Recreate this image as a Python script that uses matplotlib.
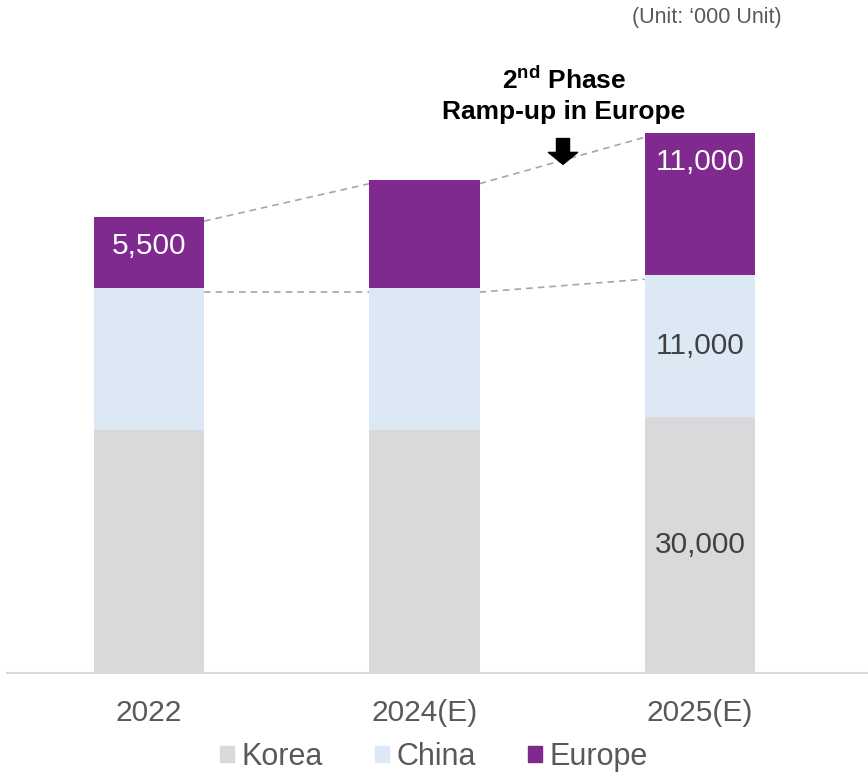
import matplotlib
matplotlib.use('Agg')

import matplotlib.pyplot as plt
from matplotlib.patches import Patch

# Chart data (drawn heights, in units; labels as printed)
years = ['2022', '2024(E)', '2025(E)']
korea = [18800, 18800, 19800]
china = [11000, 11000, 11000]
europe = [5500, 8400, 11000]
korea_labels = ['', '', '30,000']
china_labels = ['', '', '11,000']
europe_labels = ['5,500', '', '11,000']

# Colours
KOREA_C = '#D9D9DB'
CHINA_C = '#DDE8F5'
EUROPE_C = '#80298F'
TEXT_C = '#595959'

plt.rcParams['font.family'] = ['Liberation Sans', 'DejaVu Sans']
plt.rcParams['mathtext.fontset'] = 'custom'
plt.rcParams['mathtext.bf'] = 'Liberation Sans:bold'
plt.rcParams['mathtext.rm'] = 'Liberation Sans'

fig = plt.figure(figsize=(8.68, 7.77), dpi=100)
ax = fig.add_axes([7 / 868, 104 / 777, 861 / 868, 673 / 777])

x = list(range(len(years)))
width = 0.4
china_base = korea
europe_base = [k + c for k, c in zip(korea, china)]
totals = [b + e for b, e in zip(europe_base, europe)]

ax.bar(x, korea, width, color=KOREA_C, zorder=2)
ax.bar(x, china, width, bottom=china_base, color=CHINA_C, zorder=2)
ax.bar(x, europe, width, bottom=europe_base, color=EUROPE_C, zorder=2)

# Dashed connectors between bars
for i in range(len(x) - 1):
    for ys in (totals, europe_base):
        ax.plot([x[i] + width / 2, x[i + 1] - width / 2], [ys[i] - 300, ys[i + 1] - 300],
                color='#A6A6A6', lw=1.2, ls=(0, (4, 3)), zorder=1)

# Value labels
for i in x:
    if korea_labels[i]:
        ax.text(i, korea[i] / 2, korea_labels[i], ha='center', va='center',
                fontsize=21.5, color='#404040')
    if china_labels[i]:
        ax.text(i, china_base[i] + china[i] / 2, china_labels[i], ha='center',
                va='center', fontsize=21.5, color='#404040')
    if europe_labels[i]:
        ypos = europe_base[i] + europe[i] / 2 + 500 if europe[i] < 8000 else totals[i] - 2200
        ax.text(i, ypos, europe_labels[i], ha='center', va='center',
                fontsize=21.5, color='white')

# Annotation arrow
ax.annotate('', xy=(1.503, 39400), xytext=(1.503, 41400),
            arrowprops=dict(arrowstyle='simple,head_length=0.86,head_width=2.1,tail_width=0.94',
                            color='black', shrinkA=0, shrinkB=0, mutation_scale=10))

ax.set_xlim(-0.515, 2.61)
ax.set_ylim(0, 52130)
ax.set_xticks(x)
ax.set_xticklabels(years, fontsize=21.5, color=TEXT_C)
ax.tick_params(axis='x', length=0, pad=19)
ax.set_yticks([])
for s in ('top', 'left', 'right'):
    ax.spines[s].set_visible(False)
ax.spines['bottom'].set_color('#D9D9D9')
ax.spines['bottom'].set_linewidth(1.5)

# Texts
fig.text(782 / 868, 1 - 18 / 777, '(Unit: \u2018000 Unit)', ha='right', va='center',
         fontsize=15.5, color=TEXT_C)
fig.text(564 / 868, 1 - 80 / 777, r'2$^{\mathbf{nd}}$ Phase', ha='center', va='center',
         fontsize=19, fontweight='bold', color='black')
fig.text(564 / 868, 1 - 112 / 777, 'Ramp-up in Europe', ha='center', va='center',
         fontsize=19, fontweight='bold', color='black')

handles = [Patch(color=KOREA_C, label='Korea'),
           Patch(color=CHINA_C, label='China'),
           Patch(color=EUROPE_C, label='Europe')]
leg = fig.legend(handles=handles, loc='center', bbox_to_anchor=(0.5, 1 - 757 / 777),
                 ncol=3, frameon=False, fontsize=22, handlelength=0.46, handleheight=0.46,
                 handletextpad=0.25, columnspacing=1.7, labelcolor=TEXT_C,
                 borderpad=0.1)

fig.savefig('out.png', dpi=100)
